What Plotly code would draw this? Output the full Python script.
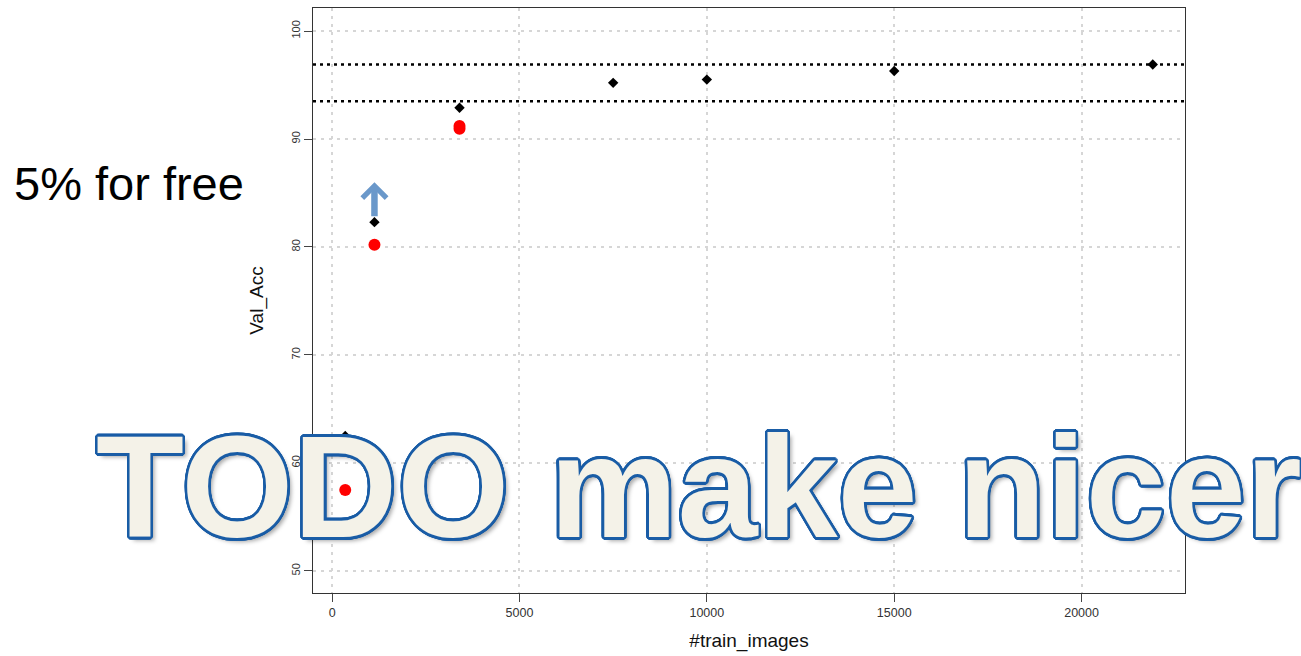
import math
import plotly.graph_objects as go

# Validation accuracy against the number of training images
train_images = [350, 1130, 3400, 7500, 10000, 15000, 21900]
val_acc = [62.5, 82.3, 92.9, 95.2, 95.5, 96.3, 96.9]

# Earlier runs (red) for the small training sets
train_images_base = [350, 1130, 3400, 3400]
val_acc_base = [57.5, 80.2, 91.2, 90.95]

# Horizontal reference levels
ref_levels = [96.9, 93.5]

x_ticks = [0, 5000, 10000, 15000, 20000]
y_ticks = [50, 60, 70, 80, 90, 100]

# Arrow marking the gain at the second training-set size
arrow_x = 1130
arrow_from, arrow_to = 82.7, 86.0

FONT = "Liberation Sans, Arial, sans-serif"

fig = go.Figure()

fig.add_trace(go.Scatter(
    x=train_images_base, y=val_acc_base, mode="markers",
    marker=dict(symbol="circle", size=12, color="#FF0000", line=dict(width=0)),
    showlegend=False, hoverinfo="skip",
))
fig.add_trace(go.Scatter(
    x=train_images, y=val_acc, mode="markers",
    marker=dict(symbol="diamond", size=8, color="#000000", line=dict(width=0)),
    showlegend=False, hoverinfo="skip",
))

for lvl in ref_levels:
    fig.add_shape(type="line", xref="paper", x0=0, x1=1, yref="y", y0=lvl, y1=lvl,
                  line=dict(color="#000000", width=2.5, dash="3px,4px"), layer="above")

axis_common = dict(
    showline=True, mirror=True, linecolor="#333333", linewidth=1,
    ticks="outside", ticklen=8, tickwidth=1, tickcolor="#444444",
    showgrid=True, gridcolor="#D6D6D6", gridwidth=1.6, griddash="3px,5px",
    zeroline=False,
)

fig.update_xaxes(
    range=[-510, 22760], tickmode="array", tickvals=x_ticks,
    ticktext=[str(v) for v in x_ticks],
    tickfont=dict(family=FONT, size=12.5, color="#333333"),
    title=dict(text="#train_images", font=dict(family=FONT, size=19, color="#111111"),
               standoff=14),
    **axis_common,
)
fig.update_yaxes(
    range=[47.96, 102.13], tickmode="array", tickvals=y_ticks,
    ticktext=[str(v) for v in y_ticks], tickangle=-90,
    tickfont=dict(family=FONT, size=11, color="#333333"),
    title=dict(text="Val_Acc", font=dict(family=FONT, size=19, color="#111111"),
               standoff=20),
    **axis_common,
)

# Upward arrow
fig.add_annotation(
    x=arrow_x, y=arrow_to, ax=arrow_x, ay=arrow_from, xref="x", yref="y",
    axref="x", ayref="y", text="", showarrow=True, arrowhead=4,
    arrowsize=0.72, arrowwidth=6.5, arrowcolor="#6A98CA", standoff=0,
)

fig.add_annotation(
    text="5% for free", xref="paper", yref="paper", x=-0.3452, y=0.6997,
    xanchor="left", yanchor="middle", showarrow=False,
    font=dict(family=FONT, size=47, color="#000000"),
)

# Outlined banner text: ring of text-shadows for the outline, then a soft drop shadow
outline_color = "#1A5DA6"
ring = []
for k in range(24):
    a = 2 * math.pi * k / 24
    ring.append(f"{2.6 * math.cos(a):.2f}px {2.6 * math.sin(a):.2f}px 0 {outline_color}")
ring.append("4px 4px 4px rgba(0,0,0,0.35)")

fig.add_annotation(
    text="<b>TODO make nicer</b>", xref="paper", yref="paper", x=0.4427, y=0.1795,
    xanchor="center", yanchor="middle", showarrow=False,
    font=dict(family=FONT, size=144, color="#F4F2E8", shadow=", ".join(ring)),
)

fig.update_layout(
    width=1301, height=656,
    margin=dict(l=313, r=116, t=8, b=63),
    paper_bgcolor="#FFFFFF", plot_bgcolor="#FFFFFF",
    showlegend=False,
)

fig.write_html("out.html")
